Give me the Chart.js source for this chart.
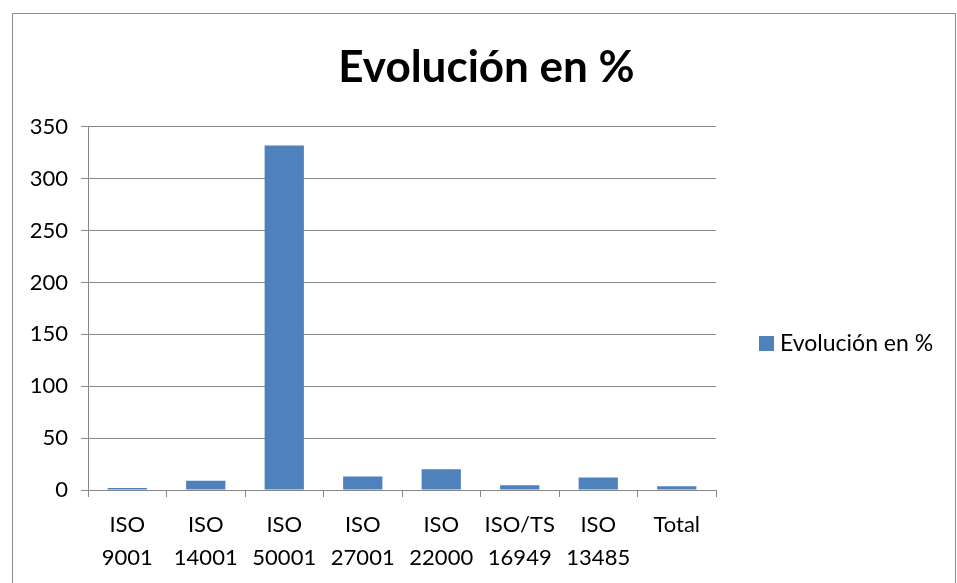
<!DOCTYPE html>
<html>
<head>
<meta charset="utf-8">
<script src="https://cdn.jsdelivr.net/npm/chart.js@4"></script>
<style>
  html, body { margin: 0; padding: 0; background: #fff; }
  #frame { position: absolute; left: 12px; top: 13px; width: 942px; height: 580px; border: 1px solid #8c8c8c; }
  #wrap { position: absolute; left: 0; top: 0; width: 957px; height: 583px; }
</style>
</head>
<body>
<div id="frame"></div>
<div id="wrap"><canvas id="chart" width="957" height="583"></canvas></div>
<script>
// Data
const categories = [['ISO', '9001'], ['ISO', '14001'], ['ISO', '50001'], ['ISO', '27001'], ['ISO', '22000'], ['ISO/TS', '16949'], ['ISO', '13485'], 'Total'];
const evolucion = [2, 9, 332, 13, 20, 4.5, 12, 3.6];
const seriesName = 'Evolución en %';
const yTicks = [0, 50, 100, 150, 200, 250, 300, 350];

const barColor = '#4F81BD';
const gridColor = '#878787';
const fontFamily = 'Lato, "Open Sans", sans-serif';

// legend drawn at the right, like the Excel original
const sideLegend = {
    id: 'sideLegend',
    afterDraw(chart) {
        const ctx = chart.ctx;
        const ds = chart.data.datasets[0];
        ctx.save();
        ctx.fillStyle = ds.backgroundColor;
        ctx.fillRect(759, 336, 15, 15);
        ctx.fillStyle = '#000';
        ctx.font = '23px ' + fontFamily;
        ctx.textBaseline = 'middle';
        ctx.textAlign = 'left';
        ctx.fillText(ds.label, 780, 344);
        ctx.restore();
    }
};

const ctx = document.getElementById('chart').getContext('2d');
new Chart(ctx, {
    type: 'bar',
    data: {
        labels: categories,
        datasets: [{
            label: seriesName,
            data: evolucion,
            backgroundColor: barColor,
            borderWidth: 0,
            barPercentage: 0.5,
            categoryPercentage: 1
        }]
    },
    options: {
        responsive: false,
        animation: false,
        layout: { padding: { left: 16, right: 0, top: 0, bottom: 0 } },
        plugins: {
            legend: { display: false },
            tooltip: { enabled: false },
            title: {
                display: true,
                text: 'Evolución en %',
                color: '#000',
                font: { family: fontFamily, size: 44, weight: 'bold', lineHeight: 1.2 },
                padding: { top: 41, bottom: 33 }
            }
        },
        scales: {
            y: {
                min: 0,
                max: 350,
                afterFit(scale) { scale.width = 72; },
                afterBuildTicks(scale) { scale.ticks = yTicks.map(v => ({ value: v })); },
                ticks: { color: '#000', padding: 13, font: { family: fontFamily, size: 22 } },
                grid: { color: gridColor, tickLength: 7, lineWidth: 1 },
                border: { color: gridColor }
            },
            // empty right-hand axis keeps room for the legend
            side: {
                type: 'linear',
                position: 'right',
                afterFit(scale) { scale.width = 241; },
                ticks: { display: false },
                grid: { display: false },
                border: { display: false }
            },
            x: {
                afterFit(scale) { scale.height = 93; },
                ticks: { color: '#000', padding: 11, maxRotation: 0, autoSkip: false, font: { family: fontFamily, size: 22, lineHeight: 1.5 } },
                grid: { drawOnChartArea: false, color: gridColor, tickLength: 7 },
                border: { color: gridColor }
            }
        }
    },
    plugins: [sideLegend]
});
</script>
</body>
</html>
